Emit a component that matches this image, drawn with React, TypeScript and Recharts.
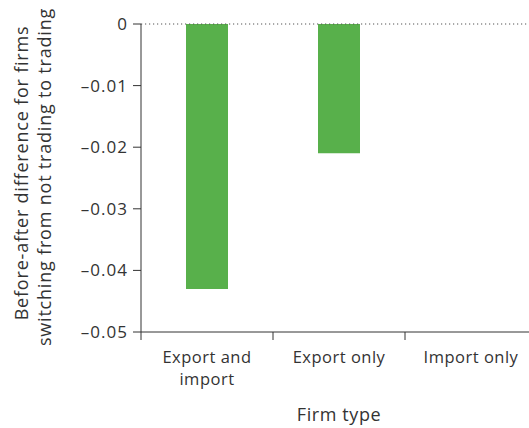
import React from "react";
import { BarChart, Bar, XAxis, YAxis, ReferenceLine, Text } from "recharts";

const categories = ["Export and import", "Export only", "Import only"];
const differences = [-0.043, -0.021, 0];
const yTicks = [0, -0.01, -0.02, -0.03, -0.04, -0.05];
const yLabelLines = ["Before-after difference for firms", "switching from not trading to trading"];

const data = categories.map((firmType, i) => ({ firmType, diff: differences[i] }));

const FONT = "'Open Sans', Lato, sans-serif";
const TEXT = "#333333";
const TICK_SIZE = 8;
const TICK_MARGIN = 10;

const formatTick = (v: number) => (v === 0 ? "0" : "–" + Math.abs(v).toFixed(2));

// category labels sit in the middle of each band, but the tick marks sit on the band edges
const CategoryTick = (props: any) => {
  const { x, y, payload } = props;
  const half = payload && typeof payload.offset === "number" && payload.offset > 0 ? payload.offset : 66;
  const edge = x - half;
  const axisY = y - TICK_MARGIN - TICK_SIZE;
  return (
    <g>
      <line x1={edge} y1={axisY} x2={edge} y2={axisY + TICK_SIZE} stroke={TEXT} strokeWidth={1} />
      <Text
        x={x}
        y={y + 1}
        width={100}
        textAnchor="middle"
        verticalAnchor="start"
        lineHeight={22}
        fill={TEXT}
        fontSize={16.5}
        letterSpacing={0.5}
        fontFamily={FONT}
      >
        {payload.value}
      </Text>
    </g>
  );
};

const YLabel = (props: any) => {
  const vb = props.viewBox || { x: 0, y: 0, width: 141, height: 308 };
  const mid = vb.y + vb.height / 2;
  return (
    <g>
      {yLabelLines.map((line, i) => {
        const cx = vb.x + 21 + i * 23;
        const cy = mid - 5 + i * 4;
        return (
          <text
            key={line}
            x={cx}
            y={cy}
            transform={`rotate(-90, ${cx}, ${cy})`}
            textAnchor="middle"
            dominantBaseline="central"
            fill={TEXT}
            fontSize={18}
            letterSpacing={0.8}
            fontFamily={FONT}
          >
            {line}
          </text>
        );
      })}
    </g>
  );
};

export default function App() {
  return (
    <div
      style={{
        position: "absolute",
        left: 0,
        top: 0,
        width: 529,
        height: 428,
        overflow: "hidden",
        background: "#fff",
      }}
    >
      <BarChart
        width={537}
        height={428}
        data={data}
        margin={{ top: 24, right: 0, bottom: 0, left: 0 }}
      >
        <XAxis
          dataKey="firmType"
          height={96}
          tickLine={false}
          tickSize={TICK_SIZE}
          tickMargin={TICK_MARGIN}
          axisLine={{ stroke: TEXT, strokeWidth: 1 }}
          tick={<CategoryTick />}
          interval={0}
          label={{
            value: "Firm type",
            position: "insideBottom",
            offset: 7,
            fill: TEXT,
            fontSize: 18,
            letterSpacing: 0.6,
            fontFamily: FONT,
          }}
        />
        <YAxis
          width={141}
          domain={[-0.05, 0]}
          ticks={yTicks}
          tickFormatter={formatTick}
          tickSize={TICK_SIZE}
          tickMargin={5}
          axisLine={{ stroke: TEXT, strokeWidth: 1 }}
          tickLine={{ stroke: TEXT, strokeWidth: 1 }}
          tick={{ fill: TEXT, fontSize: 17, letterSpacing: 1, fontFamily: FONT }}
          label={<YLabel />}
        />
        <ReferenceLine y={0} stroke="#555555" strokeDasharray="1.2 2.8" strokeWidth={1.2} />
        <Bar dataKey="diff" fill="#58b04b" barSize={42} isAnimationActive={false} />
      </BarChart>
    </div>
  );
}
